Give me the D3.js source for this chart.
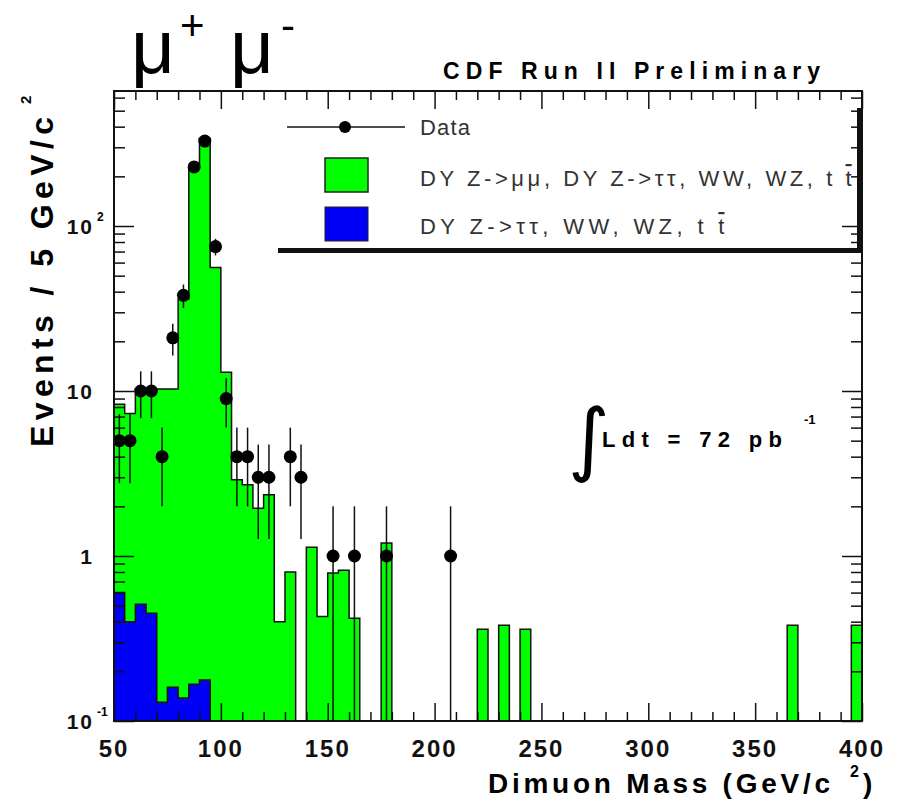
<!DOCTYPE html>
<html>
<meta charset="utf-8">
<head>
  <title>Dimuon mass, CDF Run II Preliminary</title>
</head>

<style>
body { margin: 0; background: #fff; }
text { font-family: "Liberation Sans", Arial, Helvetica, sans-serif; }
.lab { font-weight: bold; font-size: 24px; letter-spacing: 2px; fill: #111; }
.leg { font-size: 22px; fill: #333; }
</style>

<body>
  <svg width="903" height="803"></svg>

  <script src="https://cdnjs.cloudflare.com/ajax/libs/d3/7.8.5/d3.min.js"></script>
  <script>

// lower edges of the 5 GeV bins that have a non-zero MC content
var mcBins = [50, 55, 60, 65, 70, 75, 80, 85, 90, 95, 100, 105, 110, 115, 120, 125, 130,
              140, 145, 150, 155, 160, 175, 220, 230, 240, 365, 395];
// DY Z->mumu + DY Z->tautau + WW + WZ + ttbar
var mcAll = [8.3, 7.3, 10.3, 10.3, 10.3, 10.3, 36, 230, 340, 56, 13, 2.9, 2.7, 1.95, 2.35, 0.4, 0.8,
             1.13, 0.43, 0.79, 0.82, 0.42, 1.2, 0.36, 0.38, 0.36, 0.38, 0.38];

// DY Z->tautau + WW + WZ + ttbar only
var bgBins = [50, 55, 60, 65, 70, 75, 80, 85, 90];
var bgOther = [0.60, 0.40, 0.51, 0.45, 0.13, 0.16, 0.138, 0.167, 0.177];

// data: bin centres and event counts
var dataMass = [52.5, 57.5, 62.5, 67.5, 72.5, 77.5, 82.5, 87.5, 92.5, 97.5, 102.5, 107.5, 112.5,
                117.5, 122.5, 132.5, 137.5, 152.5, 162.5, 177.5, 207.5];
var dataEvents = [5, 5, 10, 10, 4, 21, 38, 228, 327, 75, 9, 4, 4, 3, 3, 4, 3, 1, 1, 1, 1];

var xTickLabels = [50, 100, 150, 200, 250, 300, 350, 400];
var yDecades = [0.1, 1, 10, 100];

var svg = d3.select('svg');

var x = d3.scaleLinear().domain([50, 400]).range([114, 862]);
var y = d3.scaleLog().domain([0.1, 658]).range([721, 91]);

svg.append('defs').append('clipPath').attr('id', 'frame')
  .append('rect')
  .attr('x', x(50)).attr('y', y(658))
  .attr('width', x(400) - x(50)).attr('height', y(0.1) - y(658));

function fullBins(edges, vals) {
  var out = d3.range(50, 400, 5).map(function(lo) { return {lo: lo, v: 0}; });
  edges.forEach(function(e, i) { out[(e - 50) / 5].v = vals[i]; });
  return out;
}

function stepPath(bins) {
  var p = d3.path(), y0 = y(0.1);
  p.moveTo(x(50), y0);
  bins.forEach(function(b) {
    var yy = b.v > 0.1 ? y(b.v) : y0;
    p.lineTo(x(b.lo), yy);
    p.lineTo(x(b.lo + 5), yy);
  });
  p.lineTo(x(400), y0);
  return p.toString();
}

var plot = svg.append('g').attr('clip-path', 'url(#frame)');

var green = stepPath(fullBins(mcBins, mcAll));
var blue = stepPath(fullBins(bgBins, bgOther));

plot.append('path').attr('d', green).attr('fill', '#00ff00');
plot.append('path').attr('d', green).attr('fill', 'none').attr('stroke', '#111').attr('stroke-width', 1.5);
plot.append('path').attr('d', blue).attr('fill', '#0000f5');
plot.append('path').attr('d', blue).attr('fill', 'none').attr('stroke', '#111').attr('stroke-width', 1.5);

// data points with sqrt(N) error bars
var pts = plot.selectAll('g.pt')
  .data(dataMass.map(function(m, i) { return {m: m, n: dataEvents[i]}; }))
  .enter().append('g').attr('class', 'pt');

pts.append('line')
  .attr('x1', function(d) { return x(d.m); })
  .attr('x2', function(d) { return x(d.m); })
  .attr('y1', function(d) { return y(d.n + Math.sqrt(d.n)); })
  .attr('y2', function(d) { return y(Math.max(d.n - Math.sqrt(d.n), 0.1)); })
  .attr('stroke', '#111').attr('stroke-width', 1.5);

pts.append('circle')
  .attr('cx', function(d) { return x(d.m); })
  .attr('cy', function(d) { return y(d.n); })
  .attr('r', 6.5).attr('fill', '#000');

// axes, ticks inside the frame on all four sides
var xMinor = d3.range(60, 400, 10).filter(function(v) { return v % 50 !== 0; });
var xMajor = d3.range(50, 401, 50);
var yAll = y.ticks();
var yMinor = yAll.filter(function(v) { return yDecades.indexOf(v) < 0; });

function axisG(axis, tx, ty) {
  var g = svg.append('g').attr('transform', 'translate(' + tx + ',' + ty + ')').call(axis);
  g.select('.domain').remove();
  g.selectAll('line').attr('stroke', '#111').attr('stroke-width', 1.5);
  g.selectAll('text').remove();
}

axisG(d3.axisBottom(x).tickValues(xMajor).tickSize(-18), 0, y(0.1));
axisG(d3.axisBottom(x).tickValues(xMinor).tickSize(-9), 0, y(0.1));
axisG(d3.axisTop(x).tickValues(xMajor).tickSize(-18), 0, y(658));
axisG(d3.axisTop(x).tickValues(xMinor).tickSize(-9), 0, y(658));
axisG(d3.axisLeft(y).tickValues(yDecades).tickSize(-20), x(50), 0);
axisG(d3.axisLeft(y).tickValues(yMinor).tickSize(-11), x(50), 0);
axisG(d3.axisRight(y).tickValues(yDecades).tickSize(-20), x(400), 0);
axisG(d3.axisRight(y).tickValues(yMinor).tickSize(-11), x(400), 0);

svg.append('rect')
  .attr('x', x(50)).attr('y', y(658))
  .attr('width', x(400) - x(50)).attr('height', y(0.1) - y(658))
  .attr('fill', 'none').attr('stroke', '#111').attr('stroke-width', 2);

// tick labels
svg.selectAll('text.xl').data(xTickLabels).enter().append('text')
  .attr('class', 'lab')
  .attr('x', function(d) { return x(d); })
  .attr('y', 757)
  .attr('text-anchor', 'middle')
  .text(function(d) { return d; });

var yl = svg.selectAll('g.yl').data(yDecades).enter().append('g');
yl.append('text')
  .attr('class', 'lab').style('font-size', '21px')
  .attr('x', 94)
  .attr('y', function(d) { return y(d) + 8; })
  .attr('text-anchor', 'end')
  .text(function(d) { return d === 1 ? '1' : '10'; });
yl.filter(function(d) { return d !== 1 && d !== 10; }).append('text')
  .attr('x', 97)
  .attr('y', function(d) { return y(d) - 5; })
  .style('font-size', '12px').style('font-weight', 'bold')
  .text(function(d) { return d < 1 ? '-1' : '2'; });

// axis titles
svg.append('text')
  .attr('x', 488).attr('y', 793)
  .attr('textLength', 342).attr('lengthAdjust', 'spacing')
  .style('font-size', '28px').style('font-weight', 'bold')
  .text('Dimuon Mass (GeV/c');
svg.append('text').attr('x', 850).attr('y', 777)
  .style('font-size', '16px').style('font-weight', 'bold').text('2');
svg.append('text').attr('x', 863).attr('y', 793)
  .style('font-size', '28px').style('font-weight', 'bold').text(')');

svg.append('text')
  .attr('transform', 'translate(53,447) rotate(-90)')
  .attr('textLength', 330).attr('lengthAdjust', 'spacing')
  .style('font-size', '32px').style('font-weight', 'bold')
  .text('Events / 5 GeV/c');
svg.append('text')
  .attr('transform', 'translate(31,104) rotate(-90)')
  .style('font-size', '15px').style('font-weight', 'bold')
  .text('2');

// titles
svg.append('text')
  .attr('x', 443).attr('y', 79)
  .attr('textLength', 377).attr('lengthAdjust', 'spacing')
  .style('font-size', '23px').style('font-weight', 'bold')
  .text('CDF Run II Preliminary');

var mu = svg.append('g').style('font-family', '"DejaVu Serif", "Liberation Serif", serif');
mu.append('text').attr('x', 131).attr('y', 73).style('font-size', '76px').text('\u03bc');
mu.append('text').attr('x', 180).attr('y', 40).style('font-size', '42px').text('+');
mu.append('text').attr('x', 230).attr('y', 73).style('font-size', '76px').text('\u03bc');
mu.append('text').attr('x', 281).attr('y', 40).style('font-size', '42px').text('-');

// luminosity
svg.append('text').attr('x', 568).attr('y', 466)
  .style('font-family', '"DejaVu Sans", sans-serif').style('font-size', '80px')
  .text('\u222b');
svg.append('text').attr('x', 602).attr('y', 447)
  .attr('textLength', 180).attr('lengthAdjust', 'spacing')
  .style('font-size', '22px').style('font-weight', 'bold')
  .text('Ldt = 72 pb');
svg.append('text').attr('x', 804).attr('y', 424)
  .style('font-size', '13px').style('font-weight', 'bold')
  .text('-1');

// legend
var leg = svg.append('g');
leg.append('rect').attr('x', 857).attr('y', 108).attr('width', 5).attr('height', 145).attr('fill', '#111');
leg.append('rect').attr('x', 278).attr('y', 248).attr('width', 584).attr('height', 5).attr('fill', '#111');

leg.append('line').attr('x1', 287).attr('x2', 405).attr('y1', 127).attr('y2', 127)
  .attr('stroke', '#111').attr('stroke-width', 1.5);
leg.append('circle').attr('cx', 345).attr('cy', 127).attr('r', 6).attr('fill', '#000');
leg.append('rect').attr('x', 325).attr('y', 158).attr('width', 43).attr('height', 34)
  .attr('fill', '#00ff00').attr('stroke', '#222').attr('stroke-width', 1.5);
leg.append('rect').attr('x', 325).attr('y', 207).attr('width', 43).attr('height', 34)
  .attr('fill', '#0000f5').attr('stroke', '#222').attr('stroke-width', 1);

leg.append('text').attr('class', 'leg').attr('x', 420).attr('y', 135)
  .attr('textLength', 50).attr('lengthAdjust', 'spacing').text('Data');

var t1 = leg.append('text').attr('class', 'leg').attr('x', 420).attr('y', 186);
t1.append('tspan').attr('textLength', 422).attr('lengthAdjust', 'spacing')
  .text('DY Z->\u03bc\u03bc, DY Z->\u03c4\u03c4, WW, WZ, t ');
t1.append('tspan').style('text-decoration', 'overline').text('t');

var t2 = leg.append('text').attr('class', 'leg').attr('x', 420).attr('y', 234);
t2.append('tspan').attr('textLength', 294).attr('lengthAdjust', 'spacing')
  .text('DY Z->\u03c4\u03c4, WW, WZ, t ');
t2.append('tspan').style('text-decoration', 'overline').text('t');

  </script>
</body>
</html>
